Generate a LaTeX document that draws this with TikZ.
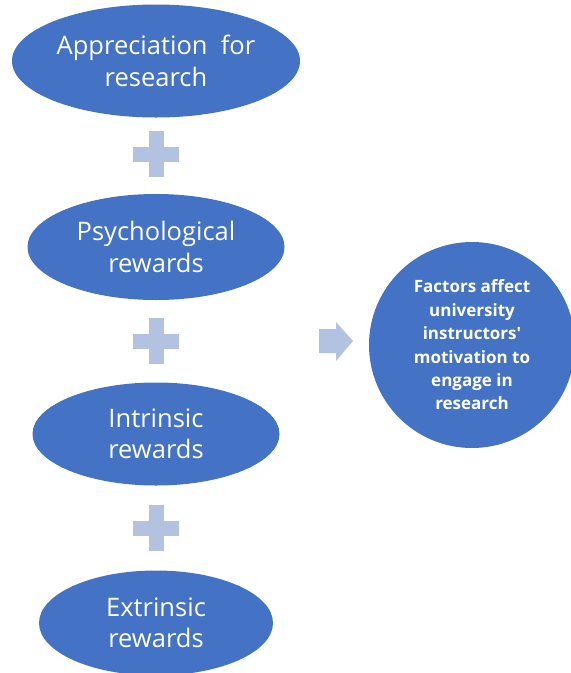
\documentclass[tikz,border=0pt]{standalone}
\usepackage{fontspec}
\setmainfont{Open Sans}
\usetikzlibrary{shapes.geometric}
\definecolor{bluefill}{RGB}{68,114,196}
\definecolor{lightfill}{RGB}{180,194,225}
\begin{document}
\begin{tikzpicture}[x=1pt,y=-1pt,
  oval/.style={ellipse, fill=bluefill, inner sep=0pt, text=white, align=center,
    font=\fontsize{25.5}{31.5}\selectfont},
  plusbox/.style={fill=lightfill, draw=none}]
\useasboundingbox (0,0) rectangle (571,673);
\node[oval, minimum width=288, minimum height=113] (e1) at (156,61) {Appreciation\ \ for\\research};
\node[oval, minimum width=257, minimum height=106] (e2) at (156,247) {Psychological\\rewards};
\node[oval, minimum width=247, minimum height=103] (e3) at (156,434) {Intrinsic\\rewards};
\node[oval, minimum width=234, minimum height=105] (e4) at (156,623) {Extrinsic\\rewards};
\node[circle, fill=bluefill, minimum size=206, inner sep=0pt, text=white, align=center,
  font=\bfseries\fontsize{17}{23.4}\selectfont] (c) at (472,345)
  {Factors affect\\university\\instructors\textquotesingle\\motivation to\\engage in\\research};
% plus signs
\foreach \n/\yy in {p1/154,p2/341,p3/528}{
  \coordinate (\n) at (156,\yy);
  \fill[lightfill] ([xshift=-23,yshift=-7.5]\n) rectangle ([xshift=23,yshift=7.5]\n);
  \fill[lightfill] ([xshift=-7.5,yshift=-23]\n) rectangle ([xshift=7.5,yshift=23]\n);
}
% arrow
\coordinate (a) at (319,341);
\fill[lightfill] (a) ++(0,-12) -- ++(17,0) -- ++(0,-7) -- (353,341) -- (336,361) -- (336,353) -- (319,353) -- cycle;
\end{tikzpicture}
\end{document}
